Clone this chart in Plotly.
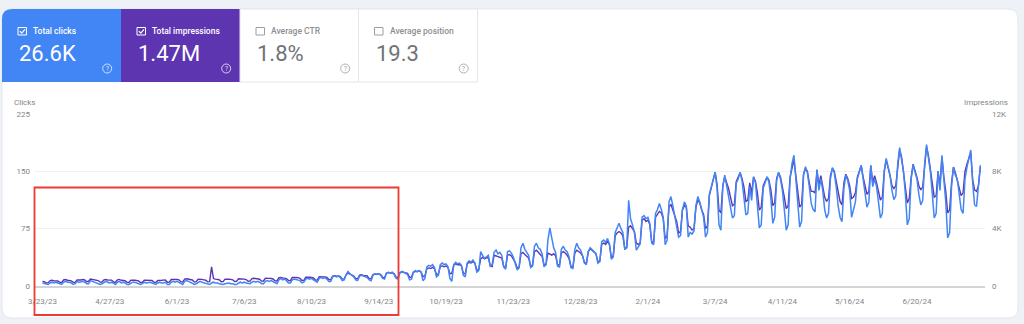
import pandas as pd
import plotly.graph_objects as go

# ---------------- data ----------------
start_date = "2023-03-23"

clicks = [
    4, 3, 2, 2, 4, 5, 4,
    5, 4, 3, 2, 5, 6, 5,
    5, 4, 2, 3, 6, 5, 6,
    6, 5, 3, 3, 7, 6, 5,
    5, 4, 2, 3, 5, 6, 5,
    4, 5, 3, 2, 5, 6, 4,
    5, 4, 2, 2, 4, 5, 5,
    4, 4, 2, 3, 5, 4, 5,
    5, 4, 3, 2, 4, 5, 4,
    4, 5, 2, 2, 5, 6, 5,
    6, 5, 3, 2, 6, 7, 6,
    5, 4, 2, 3, 5, 6, 5,
    4, 3, 2, 2, 4, 5, 4,
    4, 3, 2, 2, 3, 4, 4,
    3, 3, 2, 2, 4, 5, 4,
    5, 4, 3, 3, 5, 6, 5,
    6, 5, 3, 3, 6, 7, 6,
    7, 6, 4, 3, 8, 10, 8,
    9, 7, 4, 4, 8, 9, 8,
    8, 7, 4, 5, 9, 10, 9,
    10, 8, 6, 5, 10, 11, 10,
    11, 9, 6, 6, 12, 13, 12,
    13, 11, 7, 8, 15, 19, 16,
    14, 12, 8, 7, 13, 14, 13,
    12, 11, 8, 7, 14, 16, 15,
    16, 14, 10, 9, 17, 18, 17,
    18, 15, 10, 9, 17, 19, 18,
    17, 15, 8, 9, 18, 20, 19,
    20, 18, 7, 10, 25, 27, 26,
    28, 24, 12, 14, 28, 30, 28,
    29, 25, 10, 6, 28, 31, 29,
    30, 27, 14, 12, 30, 33, 31,
    34, 30, 18, 20, 45, 40, 36,
    38, 40, 26, 28, 44, 47, 42,
    44, 40, 25, 22, 45, 46, 43,
    38, 30, 21, 24, 50, 56, 48,
    44, 40, 24, 26, 52, 56, 50,
    48, 42, 25, 28, 60, 76, 62,
    50, 44, 26, 25, 48, 52, 47,
    45, 38, 24, 23, 48, 56, 50,
    47, 40, 30, 28, 45, 50, 48,
    45, 42, 30, 32, 58, 60, 57,
    62, 55, 35, 38, 70, 77, 82,
    75, 70, 48, 50, 112, 88, 80,
    70, 47, 52, 55, 90, 92, 88,
    90, 82, 56, 54, 95, 100, 108,
    100, 90, 54, 60, 110, 117, 105,
    92, 80, 64, 66, 100, 110, 105,
    64, 70, 68, 72, 105, 117, 110,
    100, 90, 64, 70, 120, 130, 140,
    149, 128, 80, 73, 130, 145, 132,
    120, 105, 89, 92, 135, 140, 149,
    138, 118, 93, 95, 130, 112, 143,
    135, 110, 76, 80, 128, 135, 143,
    136, 115, 82, 90, 138, 149, 140,
    125, 100, 73, 80, 140, 160, 171,
    140, 110, 77, 85, 145, 156, 148,
    130, 108, 100, 97, 152, 125, 140,
    125, 100, 89, 95, 140, 155, 148,
    130, 105, 90, 84, 128, 145, 138,
    125, 90, 100, 110, 140, 150, 158,
    140, 120, 103, 110, 158, 130, 140,
    130, 110, 89, 95, 150, 167, 155,
    145, 125, 113, 118, 160, 181, 168,
    150, 120, 80, 88, 140, 158, 150,
    140, 120, 106, 112, 160, 185, 170,
    150, 120, 89, 95, 150, 125, 171,
    140, 110, 63, 70, 130, 155, 145,
    140, 120, 100, 95, 140, 155, 165,
    178, 135, 106, 104, 130, 158,
]

impressions = [
    320, 300, 210, 230, 380, 400, 360,
    380, 350, 250, 240, 420, 450, 400,
    400, 360, 260, 250, 430, 410, 420,
    450, 420, 300, 330, 480, 460, 430,
    420, 380, 270, 280, 430, 450, 410,
    400, 410, 280, 260, 430, 460, 400,
    390, 370, 260, 250, 400, 420, 410,
    380, 360, 250, 260, 410, 400, 420,
    400, 380, 270, 250, 390, 420, 400,
    410, 420, 260, 270, 450, 470, 440,
    460, 430, 300, 280, 480, 500, 470,
    450, 420, 280, 300, 470, 490, 460,
    430, 400, 290, 300, 1330, 520, 480,
    470, 440, 300, 310, 480, 500, 470,
    460, 430, 310, 320, 500, 510, 480,
    480, 450, 330, 340, 520, 540, 500,
    500, 470, 340, 350, 540, 560, 530,
    520, 490, 360, 350, 560, 600, 570,
    560, 520, 380, 370, 600, 620, 590,
    580, 540, 390, 400, 620, 640, 610,
    600, 560, 420, 410, 650, 670, 640,
    640, 600, 450, 440, 690, 720, 680,
    700, 650, 480, 500, 780, 900, 820,
    760, 700, 520, 500, 760, 780, 740,
    740, 700, 520, 510, 800, 840, 820,
    860, 800, 600, 580, 900, 940, 900,
    920, 850, 620, 600, 930, 980, 950,
    930, 880, 600, 620, 960, 1020, 990,
    1080, 980, 650, 700, 1200, 1260, 1220,
    1300, 1200, 800, 850, 1350, 1400, 1350,
    1400, 1300, 850, 900, 1450, 1550, 1480,
    1500, 1400, 900, 850, 1550, 1650, 1600,
    1700, 1600, 1100, 1150, 1900, 2000, 1900,
    1950, 2000, 1400, 1350, 2150, 2100, 2050,
    2050, 1950, 1350, 1300, 2150, 2200, 2100,
    1900, 1650, 1250, 1300, 2250, 2350, 2200,
    2100, 1950, 1400, 1450, 2400, 2500, 2350,
    2200, 2050, 1450, 1500, 2300, 2200, 2150,
    2250, 2100, 1500, 1450, 2300, 2400, 2300,
    2150, 1900, 1350, 1300, 2300, 2500, 2400,
    2300, 2100, 1650, 1600, 2400, 2600, 2500,
    2350, 2250, 1700, 1750, 2900, 3000, 2900,
    3100, 2900, 2000, 2100, 3500, 3700, 3800,
    3700, 3500, 2600, 2700, 4100, 4200, 4000,
    3800, 3000, 2900, 3000, 4600, 4700, 4500,
    4600, 4300, 3100, 3000, 4800, 5000, 5200,
    5100, 4700, 3300, 3500, 5500, 5700, 5300,
    4900, 4500, 3700, 3800, 5300, 5600, 5500,
    4200, 4100, 3900, 4000, 5500, 6000, 5800,
    5300, 5000, 4000, 4200, 6300, 6800, 7300,
    7950, 7100, 5300, 5100, 7000, 7600, 7200,
    6800, 6200, 5600, 5700, 7300, 7600, 7900,
    7500, 6900, 5900, 6000, 7200, 6500, 7600,
    7300, 6500, 5300, 5500, 7000, 7300, 7600,
    7400, 6700, 5600, 5800, 7500, 7900, 7600,
    7000, 6200, 5400, 5600, 7600, 8300, 8800,
    7700, 6500, 5500, 5700, 7800, 8200, 8000,
    7200, 6600, 6600, 6500, 8100, 7000, 7700,
    7000, 6200, 5900, 6100, 7700, 8200, 8000,
    7200, 6400, 5900, 5650, 7200, 7800, 7500,
    7000, 6100, 6200, 6500, 7600, 8000, 8400,
    7600, 7000, 6400, 6600, 8400, 7200, 7700,
    7200, 6500, 6000, 6200, 8000, 8800, 8300,
    7700, 7000, 6800, 7000, 8500, 9500, 9000,
    8000, 6900, 5800, 6100, 7600, 8500, 8100,
    7600, 7000, 6700, 6900, 8500, 9700, 9100,
    8100, 7000, 6200, 6300, 8000, 7000, 9000,
    7600, 6600, 5100, 5300, 7200, 8300, 7900,
    7400, 6700, 6300, 6500, 8000, 8500, 8900,
    9300, 7400, 6700, 6600, 7000, 8300,
]

tick_dates = ["2023-03-23", "2023-04-27", "2023-06-01", "2023-07-06", "2023-08-10",
              "2023-09-14", "2023-10-19", "2023-11-23", "2023-12-28", "2024-02-01",
              "2024-03-07", "2024-04-11", "2024-05-16", "2024-06-20"]
tick_labels = ["3/23/23", "4/27/23", "6/1/23", "7/6/23", "8/10/23", "9/14/23",
               "10/19/23", "11/23/23", "12/28/23", "2/1/24", "3/7/24", "4/11/24",
               "5/16/24", "6/20/24"]
clicks_ticks = [0, 75, 150, 225]
impr_ticks = [0, 4000, 8000, 12000]
impr_tick_labels = ["0", "4K", "8K", "12K"]

card_labels = ["Total clicks", "Total impressions", "Average CTR", "Average position"]
card_values = ["26.6K", "1.47M", "1.8%", "19.3"]

# ---------------- layout helpers ----------------
W, H = 1024, 324
L, R, T, B = 35, 39, 114, 38
PW, PH = W - L - R, H - T - B


def fx(px):
    return (px - L) / PW


def fy(py):
    return (H - B - py) / PH


def rounded_path(x0, y0, x1, y1, r, corners=(1, 1, 1, 1)):
    # corners: tl, tr, br, bl (pixel coords, y down)
    tl, tr, br, bl = [r if c else 0 for c in corners]
    p = f"M {fx(x0 + tl)},{fy(y0)} L {fx(x1 - tr)},{fy(y0)} "
    p += f"Q {fx(x1)},{fy(y0)} {fx(x1)},{fy(y0 + tr)} " if tr else ""
    p += f"L {fx(x1)},{fy(y1 - br)} "
    p += f"Q {fx(x1)},{fy(y1)} {fx(x1 - br)},{fy(y1)} " if br else ""
    p += f"L {fx(x0 + bl)},{fy(y1)} "
    p += f"Q {fx(x0)},{fy(y1)} {fx(x0)},{fy(y1 - bl)} " if bl else ""
    p += f"L {fx(x0)},{fy(y0 + tl)} "
    p += f"Q {fx(x0)},{fy(y0)} {fx(x0 + tl)},{fy(y0)} " if tl else ""
    return p + "Z"


dates = pd.date_range(start_date, periods=len(clicks), freq="D")

BLUE = "#4285f4"
PURPLE = "#5e35b1"
FONT = "Roboto"
AXIS_GREY = "#80868b"

fig = go.Figure()
# impressions on the base (right-hand) axis, clicks on the overlaying (left-hand) axis
# so that the clicks line is drawn on top
fig.add_trace(go.Scatter(x=dates, y=impressions, mode="lines", name="Impressions",
                         line=dict(color=PURPLE, width=1.4), yaxis="y"))
fig.add_trace(go.Scatter(x=dates, y=clicks, mode="lines", name="Clicks",
                         line=dict(color=BLUE, width=1.5), yaxis="y2"))

shapes = []
annotations = []

# white panel
shapes.append(dict(type="path", xref="paper", yref="paper", layer="below",
                   path=rounded_path(2, 9, 1018, 318, 10),
                   fillcolor="white", line=dict(color="#e3e7ee", width=1)))

card_lefts = [2, 121, 240, 358.5]
card_rights = [121, 240, 358.5, 477.5]
card_fills = [BLUE, PURPLE, "white", "white"]

for i in range(4):
    x0, x1 = card_lefts[i], card_rights[i]
    active = i < 2
    if i == 0:
        shapes.append(dict(type="path", xref="paper", yref="paper", layer="below",
                           path=rounded_path(x0, 9, x1, 82, 10, corners=(1, 0, 0, 0)),
                           fillcolor=card_fills[i], line=dict(width=0)))
    elif active:
        shapes.append(dict(type="rect", xref="paper", yref="paper", layer="below",
                           x0=fx(x0), x1=fx(x1), y0=fy(82), y1=fy(9),
                           fillcolor=card_fills[i], line=dict(width=0)))
    else:
        shapes.append(dict(type="rect", xref="paper", yref="paper", layer="below",
                           x0=fx(x0), x1=fx(x1), y0=fy(82), y1=fy(9),
                           fillcolor="white", line=dict(color="#e6e6e6", width=1)))
    fg = "white" if active else "#9aa0a6"
    # checkbox
    shapes.append(dict(type="rect", xref="paper", yref="paper",
                       x0=fx(x0 + 16), x1=fx(x0 + 24.5), y0=fy(35), y1=fy(27.5),
                       line=dict(color=fg, width=1), fillcolor="rgba(0,0,0,0)"))
    if active:
        shapes.append(dict(type="path", xref="paper", yref="paper",
                           path=f"M {fx(x0 + 17.8)},{fy(31.2)} L {fx(x0 + 19.8)},{fy(33.2)} L {fx(x0 + 23)},{fy(29.3)}",
                           line=dict(color="white", width=1.2)))
    # help icon
    shapes.append(dict(type="circle", xref="paper", yref="paper",
                       x0=fx(x0 + 100.7), x1=fx(x0 + 109.7), y0=fy(73), y1=fy(64),
                       line=dict(color="rgba(255,255,255,0.75)" if active else "#b0b0b0", width=1)))
    annotations.append(dict(text="?", xref="paper", yref="paper", x=fx(x0 + 105.2), y=fy(68.7),
                            xanchor="center", yanchor="middle", showarrow=False,
                            font=dict(family=FONT, size=6.5,
                                      color="rgba(255,255,255,0.8)" if active else "#a0a0a0")))
    # label
    annotations.append(dict(text=card_labels[i], xref="paper", yref="paper",
                            x=fx(x0 + 29), y=fy(30.8), xanchor="left", yanchor="middle",
                            showarrow=False,
                            font=dict(family=FONT, size=8.5, weight=500,
                                      color="white" if active else "#8a8f94")))
    # value
    annotations.append(dict(text=card_values[i], xref="paper", yref="paper",
                            x=fx(x0 + 15), y=fy(53.8), xanchor="left", yanchor="middle",
                            showarrow=False,
                            font=dict(family=FONT, size=22,
                                      color="white" if active else "#6f7377")))

# axis titles
annotations.append(dict(text="Clicks", xref="paper", yref="paper", x=fx(12), y=fy(102),
                        xanchor="left", yanchor="middle", showarrow=False,
                        font=dict(family=FONT, size=8, color=AXIS_GREY)))
annotations.append(dict(text="Impressions", xref="paper", yref="paper", x=fx(1010), y=fy(102),
                        xanchor="right", yanchor="middle", showarrow=False,
                        font=dict(family=FONT, size=8, color=AXIS_GREY)))

# red highlight box
shapes.append(dict(type="rect", xref="paper", yref="paper",
                   x0=fx(34.5), x1=fx(398.5), y0=fy(315), y1=fy(187.5),
                   line=dict(color="#ee3a33", width=1.8), fillcolor="rgba(0,0,0,0)"))

fig.update_layout(
    width=W, height=H,
    margin=dict(l=L, r=R, t=T, b=B, pad=0),
    paper_bgcolor="#eef2f7",
    plot_bgcolor="rgba(0,0,0,0)",
    showlegend=False,
    font=dict(family=FONT, color=AXIS_GREY),
    shapes=shapes,
    annotations=annotations,
    xaxis=dict(
        range=["2023-03-19 03:00", "2024-07-25 10:00"],
        tickvals=tick_dates, ticktext=tick_labels,
        tickfont=dict(family=FONT, size=8, color=AXIS_GREY),
        showgrid=False, zeroline=False, ticks="",
        showline=True, linecolor="#d4d4d4", linewidth=1.5,
        ticklabelstandoff=7,
    ),
    yaxis=dict(
        range=[0, 12000], tickvals=impr_ticks, ticktext=impr_tick_labels,
        side="right",
        tickfont=dict(family=FONT, size=8, color=AXIS_GREY),
        showgrid=True, gridcolor="#f0f0f0", gridwidth=1,
        zeroline=False, ticks="", ticklabelstandoff=6,
    ),
    yaxis2=dict(
        range=[0, 225], tickvals=clicks_ticks,
        overlaying="y", side="left",
        tickfont=dict(family=FONT, size=8, color=AXIS_GREY),
        showgrid=False, zeroline=False, ticks="", ticklabelstandoff=4,
    ),
)

fig.write_html("out.html")
